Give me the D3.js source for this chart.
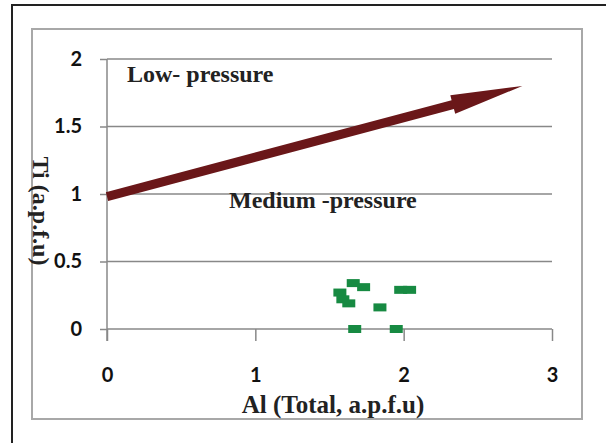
<!DOCTYPE html>
<html><head><meta charset="utf-8">
<script src="https://cdn.jsdelivr.net/npm/d3@7/dist/d3.min.js"></script>
<style>body{margin:0;background:#fff}svg{display:block}</style>
</head><body>
<script>
const xTicks = [0, 1, 2, 3];
const yTicks = [0, 0.5, 1, 1.5, 2];
const yTickLabels = ["0", "0.5", "1", "1.5", "2"];
const alValues = [1.66, 1.73, 1.98, 2.04, 1.57, 1.59, 1.63, 1.84, 1.67, 1.95];
const tiValues = [0.34, 0.31, 0.29, 0.29, 0.27, 0.22, 0.19, 0.16, 0.00, 0.00];
const arrowStart = [0, 0.98];
const arrowEnd = [2.8, 1.8];
const labels = ["Low- pressure", "Medium -pressure"];
const xTitle = "Al (Total, a.p.f.u)";
const yTitle = "Ti (a.p.f.u)";

const W = 606, H = 443;
const svg = d3.select("body").append("svg").attr("width", W).attr("height", H);

// outer black frame (left and top visible)
svg.append("rect").attr("x", 12).attr("y", 5).attr("width", 620).attr("height", 460)
  .attr("fill", "#fff").attr("stroke", "#222").attr("stroke-width", 2);
// inner gray chart frame
svg.append("rect").attr("x", 32).attr("y", 29).attr("width", 550).attr("height", 390)
  .attr("fill", "#fff").attr("stroke", "#a8a8a8").attr("stroke-width", 2);

const x = d3.scaleLinear().domain([0, 3]).range([107, 552]);
const y = d3.scaleLinear().domain([0, 2]).range([329, 59]);

const tickFont = "Lato, 'Open Sans', sans-serif";
const serif = "'Liberation Serif', 'Times New Roman', serif";

// y axis ticks
const yAxis = d3.axisLeft(y).tickValues(yTicks).tickSize(7)
  .tickFormat((d, i) => yTickLabels[i]);
const gy = svg.append("g").attr("transform", `translate(${x(0)},0)`).call(yAxis);
gy.select(".domain").remove();
gy.selectAll(".tick line").attr("stroke", "#888").attr("stroke-width", 1.5);
gy.selectAll(".tick text").attr("x", -25).attr("font-family", tickFont)
  .attr("font-weight", "bold").attr("font-size", 20).attr("fill", "#111");
// gridlines
svg.append("g").selectAll("line").data(yTicks).join("line")
  .attr("x1", x(0)).attr("x2", x(3)).attr("y1", d => y(d)).attr("y2", d => y(d))
  .attr("stroke", "#888").attr("stroke-width", 1.5);
// vertical axis line
svg.append("line").attr("x1", x(0)).attr("x2", x(0)).attr("y1", y(2)).attr("y2", y(0) + 12)
  .attr("stroke", "#888").attr("stroke-width", 1.5);

// x axis
const xAxis = d3.axisBottom(x).tickValues(xTicks).tickSize(12).tickFormat(d3.format("d"));
const gx = svg.append("g").attr("transform", `translate(0,${y(0)})`).call(xAxis);
gx.select(".domain").remove();
gx.selectAll(".tick line").attr("stroke", "#888").attr("stroke-width", 1.5);
gx.selectAll(".tick text").attr("y", 39).attr("font-family", tickFont)
  .attr("font-weight", "bold").attr("font-size", 20).attr("fill", "#111");

// arrow
const x0 = x(arrowStart[0]), y0 = y(arrowStart[1]);
const x1 = x(arrowEnd[0]), y1 = y(arrowEnd[1]);
const ang = Math.atan2(y1 - y0, x1 - x0);
const len = Math.hypot(x1 - x0, y1 - y0);
const headLen = 72, headW = 9.5, shaftW = 4.5;
const ag = svg.append("g").attr("transform", `translate(${x0},${y0}) rotate(${ang * 180 / Math.PI})`);
ag.append("path")
  .attr("d", `M0,${-shaftW} L${len - headLen},${-shaftW} L${len - headLen},${-headW} L${len},0 L${len - headLen},${headW} L${len - headLen},${shaftW} L0,${shaftW} Z`)
  .attr("fill", "#6a1719");

// points
svg.append("g").selectAll("rect").data(alValues.map((a, i) => [a, tiValues[i]])).join("rect")
  .attr("x", d => x(d[0]) - 6.5).attr("y", d => y(d[1]) - 4)
  .attr("width", 13).attr("height", 8).attr("fill", "#178a42");

// region labels
svg.append("text").attr("x", 127).attr("y", 82).text(labels[0])
  .attr("font-family", serif).attr("font-weight", "bold")
  .attr("font-size", 24).attr("fill", "#222");
svg.append("text").attr("x", 229).attr("y", 208).text(labels[1])
  .attr("font-family", serif).attr("font-weight", "bold")
  .attr("font-size", 24).attr("fill", "#222");

// axis titles
svg.append("text").attr("x", 333).attr("y", 413).attr("text-anchor", "middle").text(xTitle)
  .attr("font-family", serif).attr("font-weight", "bold")
  .attr("font-size", 25).attr("fill", "#222");
svg.append("text").attr("transform", "translate(33,211) rotate(90)").attr("text-anchor", "middle").text(yTitle)
  .attr("font-family", serif).attr("font-weight", "bold")
  .attr("font-size", 24).attr("fill", "#222");
</script>
</body></html>
